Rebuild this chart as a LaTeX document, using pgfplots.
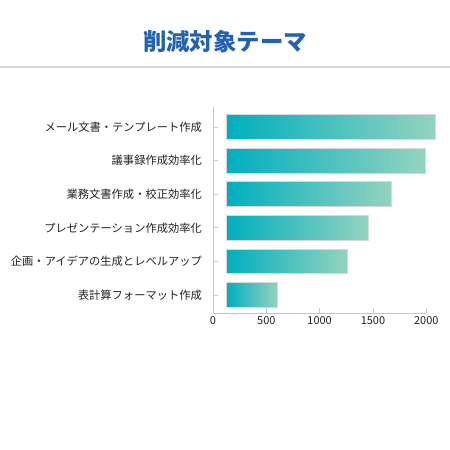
\documentclass[border=0pt]{standalone}
\usepackage{pgfplots}
\pgfplotsset{compat=1.18}
\usepackage{fontspec}
\setmainfont{Noto Sans CJK JP}
\definecolor{titleblue}{HTML}{2461AE}
\definecolor{rulegray}{HTML}{D2D6DE}
\definecolor{axisgray}{HTML}{C4C8D0}
\definecolor{barteal}{HTML}{00AFBF}
\definecolor{barmint}{HTML}{95D3BF}
\definecolor{labelgray}{HTML}{222222}
\begin{document}
\begin{tikzpicture}[x=1bp,y=1bp]
\useasboundingbox (0,0) rectangle (450,-450);
\node[font=\fontsize{23.5}{27}\selectfont\bfseries, text=titleblue] at (225,-42) {削減対象テーマ};
\draw[rulegray, line width=1.3bp] (0,-67) -- (450,-67);
\begin{axis}[
  at={(213bp,-313bp)}, anchor=south west,
  scale only axis, width=213.3bp, height=206bp,
  xmin=0, xmax=2000, ymin=-0.536, ymax=5.595,
  clip=false,
  axis lines*=left,
  axis line style={axisgray, line width=0.8bp},
  tick align=inside,
  major tick length=5bp,
  tick style={axisgray, line width=0.8bp},
  xtick={0,500,1000,1500,2000},
  ytick={0,1,2,3,4,5},
  yticklabels={表計算フォーマット作成,企画・アイデアの生成とレベルアップ,プレゼンテーション作成効率化,業務文書作成・校正効率化,議事録作成効率化,メール文書・テンプレート作成},
  yticklabel style={font=\fontsize{11.3}{13}\selectfont, text=labelgray, inner sep=0pt, anchor=east, xshift=-11bp},
  xticklabel style={font=\fontsize{11}{13}\selectfont, text=labelgray, inner sep=0pt, anchor=north, yshift=-3bp},
  /pgf/number format/assume math mode=true,
  /pgf/number format/1000 sep={},
  mybar/.style={draw=gray!30, solid, mark=none, line width=0.7bp, left color=barteal, right color=barmint},
]
% each bar: from 122 to its value, centred on its category, height 0.735
\addplot[mybar] coordinates {(122,4.6325) (2088,4.6325) (2088,5.3675) (122,5.3675)} -- cycle;
\addplot[mybar] coordinates {(122,3.6325) (1988,3.6325) (1988,4.3675) (122,4.3675)} -- cycle;
\addplot[mybar] coordinates {(122,2.6325) (1675,2.6325) (1675,3.3675) (122,3.3675)} -- cycle;
\addplot[mybar] coordinates {(122,1.6325) (1460,1.6325) (1460,2.3675) (122,2.3675)} -- cycle;
\addplot[mybar] coordinates {(122,0.6325) (1259,0.6325) (1259,1.3675) (122,1.3675)} -- cycle;
\addplot[mybar] coordinates {(122,-0.3675) (607,-0.3675) (607,0.3675) (122,0.3675)} -- cycle;
\end{axis}
\end{tikzpicture}
\end{document}
